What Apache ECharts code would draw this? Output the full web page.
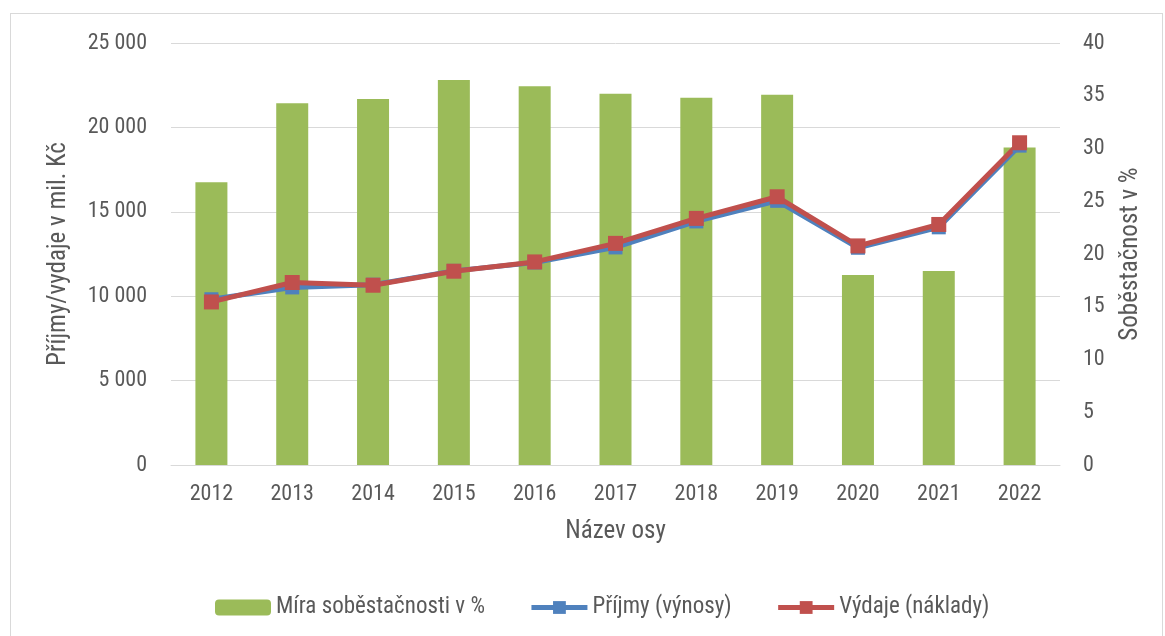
<!DOCTYPE html>
<html>
<head>
<meta charset="utf-8">
<script src="https://cdn.jsdelivr.net/npm/echarts@6/dist/echarts.min.js"></script>
<style>
  html, body { margin: 0; padding: 0; background: #fff; }
  #frame {
    position: absolute; left: 10px; top: 13px;
    width: 1151px; height: 640px;
    border: 1px solid #d9d9d9;
  }
  #chart { position: absolute; left: 0; top: 0; width: 1165px; height: 636px; }
</style>
</head>
<body>
<div id="frame"></div>
<div id="chart"></div>
<script>
const years = ['2012', '2013', '2014', '2015', '2016', '2017', '2018', '2019', '2020', '2021', '2022'];
// míra soběstačnosti v % (pravá osa)
const soberate = [26.8, 34.3, 34.7, 36.5, 35.9, 35.2, 34.8, 35.1, 18.0, 18.4, 30.1];
// mil. Kč (levá osa)
const prijmy = [9820, 10520, 10680, 11500, 12000, 12890, 14430, 15650, 12870, 14080, 18920];
const vydaje = [9660, 10810, 10650, 11480, 12030, 13130, 14610, 15890, 12980, 14250, 19090];

const font = "'Roboto Condensed', 'Liberation Sans Narrow', Roboto, sans-serif";
const txt = '#595959';

function thousands(v) {
  return String(v).replace(/\B(?=(\d{3})+(?!\d))/g, ' ');
}

let chart = echarts.init(document.getElementById('chart'));
chart.setOption({
  animation: false,
  textStyle: { fontFamily: font, color: txt },
  grid: { left: 171, right: 105, top: 43, bottom: 171 },
  legend: {
    bottom: 12,
    left: 210,
    itemWidth: 56,
    itemHeight: 16,
    itemGap: 44,
    lineStyle: { width: 5 },
    textStyle: { fontFamily: font, color: txt, fontSize: 23 },
    data: ['Míra soběstačnosti v %', 'Příjmy (výnosy)', 'Výdaje (náklady)']
  },
  xAxis: {
    type: 'category',
    data: years,
    name: 'Název osy',
    nameLocation: 'middle',
    nameGap: 54,
    nameTextStyle: { fontFamily: font, color: txt, fontSize: 25 },
    axisLine: { lineStyle: { color: '#d9d9d9', width: 1 } },
    axisTick: { show: false },
    axisLabel: { color: txt, fontSize: 22, margin: 18, fontFamily: font }
  },
  yAxis: [
    {
      type: 'value',
      min: 0, max: 25000, interval: 5000,
      name: 'Příjmy/vydaje v mil. Kč',
      nameLocation: 'middle',
      nameGap: 100,
      nameTextStyle: { fontFamily: font, color: txt, fontSize: 25 },
      axisLabel: { color: txt, fontSize: 22, margin: 24, fontFamily: font, formatter: thousands },
      axisLine: { show: false },
      axisTick: { show: false },
      splitLine: { lineStyle: { color: '#d9d9d9', width: 1 } }
    },
    {
      type: 'value',
      min: 0, max: 40, interval: 5,
      name: 'Soběstačnost v %',
      nameLocation: 'middle',
      nameGap: 58,
      nameTextStyle: { fontFamily: font, color: txt, fontSize: 25 },
      axisLabel: { color: txt, fontSize: 22, margin: 23, fontFamily: font },
      axisLine: { show: false },
      axisTick: { show: false },
      splitLine: { show: false }
    }
  ],
  series: [
    {
      name: 'Míra soběstačnosti v %',
      type: 'bar',
      yAxisIndex: 1,
      barWidth: 32,
      itemStyle: { color: '#9bbb59' },
      data: soberate
    },
    {
      name: 'Příjmy (výnosy)',
      type: 'line',
      yAxisIndex: 0,
      symbol: 'rect',
      symbolSize: 14,
      lineStyle: { color: '#4f81bd', width: 5 },
      itemStyle: { color: '#4f81bd' },
      data: prijmy
    },
    {
      name: 'Výdaje (náklady)',
      type: 'line',
      yAxisIndex: 0,
      symbol: 'rect',
      symbolSize: 15,
      lineStyle: { color: '#c0504d', width: 5 },
      itemStyle: { color: '#c0504d' },
      data: vydaje
    }
  ]
});

window.addEventListener('resize', function() {
  chart.resize();
});
</script>
</body>
</html>
